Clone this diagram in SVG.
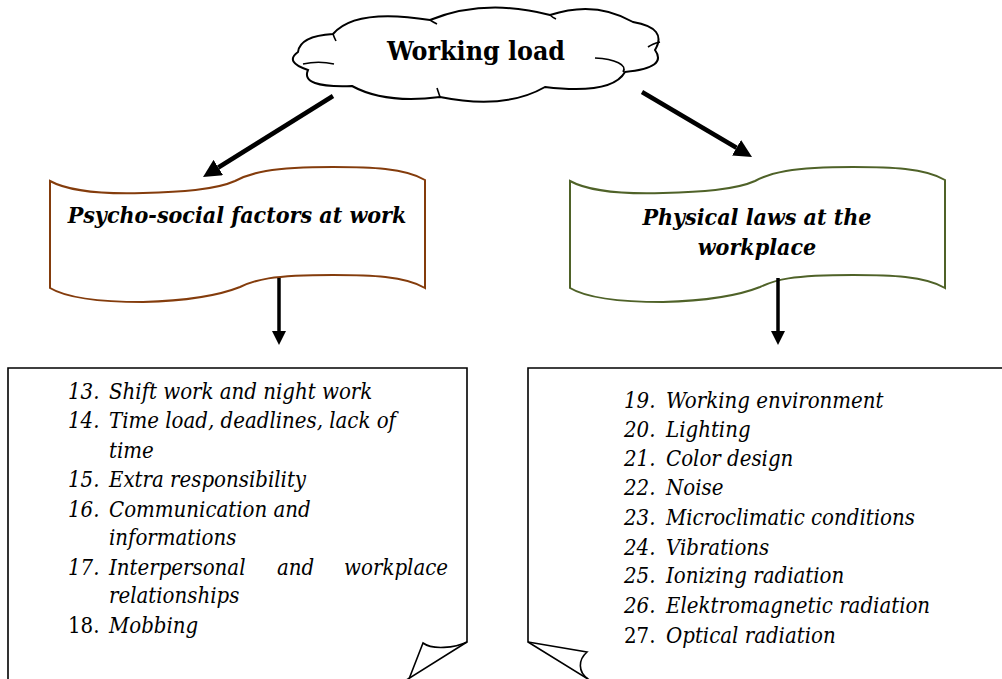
<svg xmlns="http://www.w3.org/2000/svg" width="1002" height="679" viewBox="0 0 1002 679" font-family="DejaVu Serif Condensed, DejaVu Serif, serif">
<style>
.hd{font-size:26.5px;font-weight:bold}
.bn{font-size:23px;font-weight:bold;font-style:italic}
.it{font-size:22px;font-style:italic}
.up{font-size:22px}
.cl{fill:#fff;stroke:#000;stroke-width:2}
.ln{fill:none;stroke:#000;stroke-width:1.6}
.bx{fill:#fff;stroke:#000;stroke-width:1.6}
.ar{stroke:#000;fill:none}
</style>
<defs>
<marker id="ah" viewBox="0 0 10 10" refX="0" refY="5" markerWidth="4" markerHeight="4" orient="auto" markerUnits="strokeWidth">
<path d="M0,0 L10,5 L0,10 z" fill="#000"/>
</marker>
</defs>

<g id="cloud">
<path class="cl" d="M298,52 Q300,36 333,34 Q355,8 430,20 Q485,-2 550,15 Q595,0 633,22 Q668,28 655,50 Q668,68 625,72 Q612,95 545,87 Q505,110 440,97 Q385,104 352,86 Q300,88 308,70 Q284,62 298,52 Z"/>
<path class="ln" d="M595,58 C615,59 628,65 623,72"/>
<path class="ln" d="M648,47 C652,44 656,43 660,42"/>
<path class="ln" d="M303,64 C312,62 325,62 334,64"/>
<path class="ln" d="M333,34 C334,37 335,39 336,41"/>
<path class="ln" d="M430,20 C433,22 435,23 437,24"/>
<path class="ln" d="M550,15 C552,17 554,18 556,19"/>
<path class="ln" d="M437,88 C438,91 439,94 440,97"/>
<text class="hd" x="476" y="60" text-anchor="middle">Working load</text>
</g>

<g id="banner-left">
<path d="M50,181 C70,192 110,194 143,193 C180,192 215,190 235,181 C250,173 270,167 333,167 C370,167 405,168 425,180 L425,288 C405,276 370,275 333,275 C270,275 255,280 240,287 C215,297 180,301 143,302 C110,302 70,300 50,288 Z" fill="#fff" stroke="#843C0C" stroke-width="2"/>
<text class="bn" x="237" y="223" text-anchor="middle">Psycho-social factors at work</text>
</g>

<g id="banner-right">
<path d="M570,181 C590,192 630,194 663,193 C700,192 735,190 755,181 C770,173 790,167 853,167 C890,167 925,168 945,180 L945,288 C925,276 890,275 853,275 C790,275 775,280 760,287 C735,297 700,301 663,302 C630,302 590,300 570,288 Z" fill="#fff" stroke="#4F6228" stroke-width="2"/>
<text class="bn" x="757" y="225" text-anchor="middle">Physical laws at the</text>
<text class="bn" x="757" y="255" text-anchor="middle">workplace</text>
</g>

<g id="box-left">
<path class="bx" d="M8,690 L8,368 L467,368 L467,642 L400,684"/>
<path class="ln" d="M467,642 C455,648 432,650 423,643 L409,679"/>
<text class="it" x="68" y="399">13.</text><text class="it" x="109" y="399">Shift work and night work</text>
<text class="it" x="68" y="428">14.</text><text class="it" x="109" y="428">Time load, deadlines, lack of</text>
<text class="it" x="109" y="458">time</text>
<text class="it" x="68" y="487">15.</text><text class="it" x="109" y="487">Extra responsibility</text>
<text class="it" x="68" y="517">16.</text><text class="it" x="109" y="517">Communication and</text>
<text class="it" x="109" y="545">informations</text>
<text class="it" x="68" y="575">17.</text><text class="it" x="109" y="575">Interpersonal</text><text class="it" x="277" y="575">and</text><text class="it" x="448" y="575" text-anchor="end">workplace</text>
<text class="it" x="109" y="603">relationships</text>
<text class="up" x="68" y="633">18.</text><text class="it" x="109" y="633">Mobbing</text>
</g>

<g id="box-right">
<path class="bx" d="M1010,368 L528,368 L528,642 L596,684"/>
<path class="ln" d="M528,642 L587,652 C578,660 578,672 588,679"/>
<text class="it" x="624" y="408">19.</text><text class="it" x="666" y="408">Working environment</text>
<text class="it" x="624" y="437">20.</text><text class="it" x="666" y="437">Lighting</text>
<text class="it" x="624" y="466">21.</text><text class="it" x="666" y="466">Color design</text>
<text class="it" x="624" y="495">22.</text><text class="it" x="666" y="495">Noise</text>
<text class="it" x="624" y="525">23.</text><text class="it" x="666" y="525">Microclimatic conditions</text>
<text class="it" x="624" y="555">24.</text><text class="it" x="666" y="555">Vibrations</text>
<text class="it" x="624" y="583">25.</text><text class="it" x="666" y="583">Ionizing radiation</text>
<text class="it" x="624" y="613">26.</text><text class="it" x="666" y="613">Elektromagnetic radiation</text>
<text class="up" x="624" y="643">27.</text><text class="it" x="666" y="643">Optical radiation</text>
</g>

<g id="connectors">
<line class="ar" x1="333" y1="96" x2="218.3" y2="167.5" stroke-width="4.5" marker-end="url(#ah)"/>
<line class="ar" x1="642" y1="92" x2="736.5" y2="147.8" stroke-width="4.5" marker-end="url(#ah)"/>
<line class="ar" x1="279" y1="278" x2="279" y2="331" stroke-width="3.5" marker-end="url(#ah)"/>
<line class="ar" x1="778" y1="278" x2="778" y2="331" stroke-width="3.5" marker-end="url(#ah)"/>
</g>
</svg>
